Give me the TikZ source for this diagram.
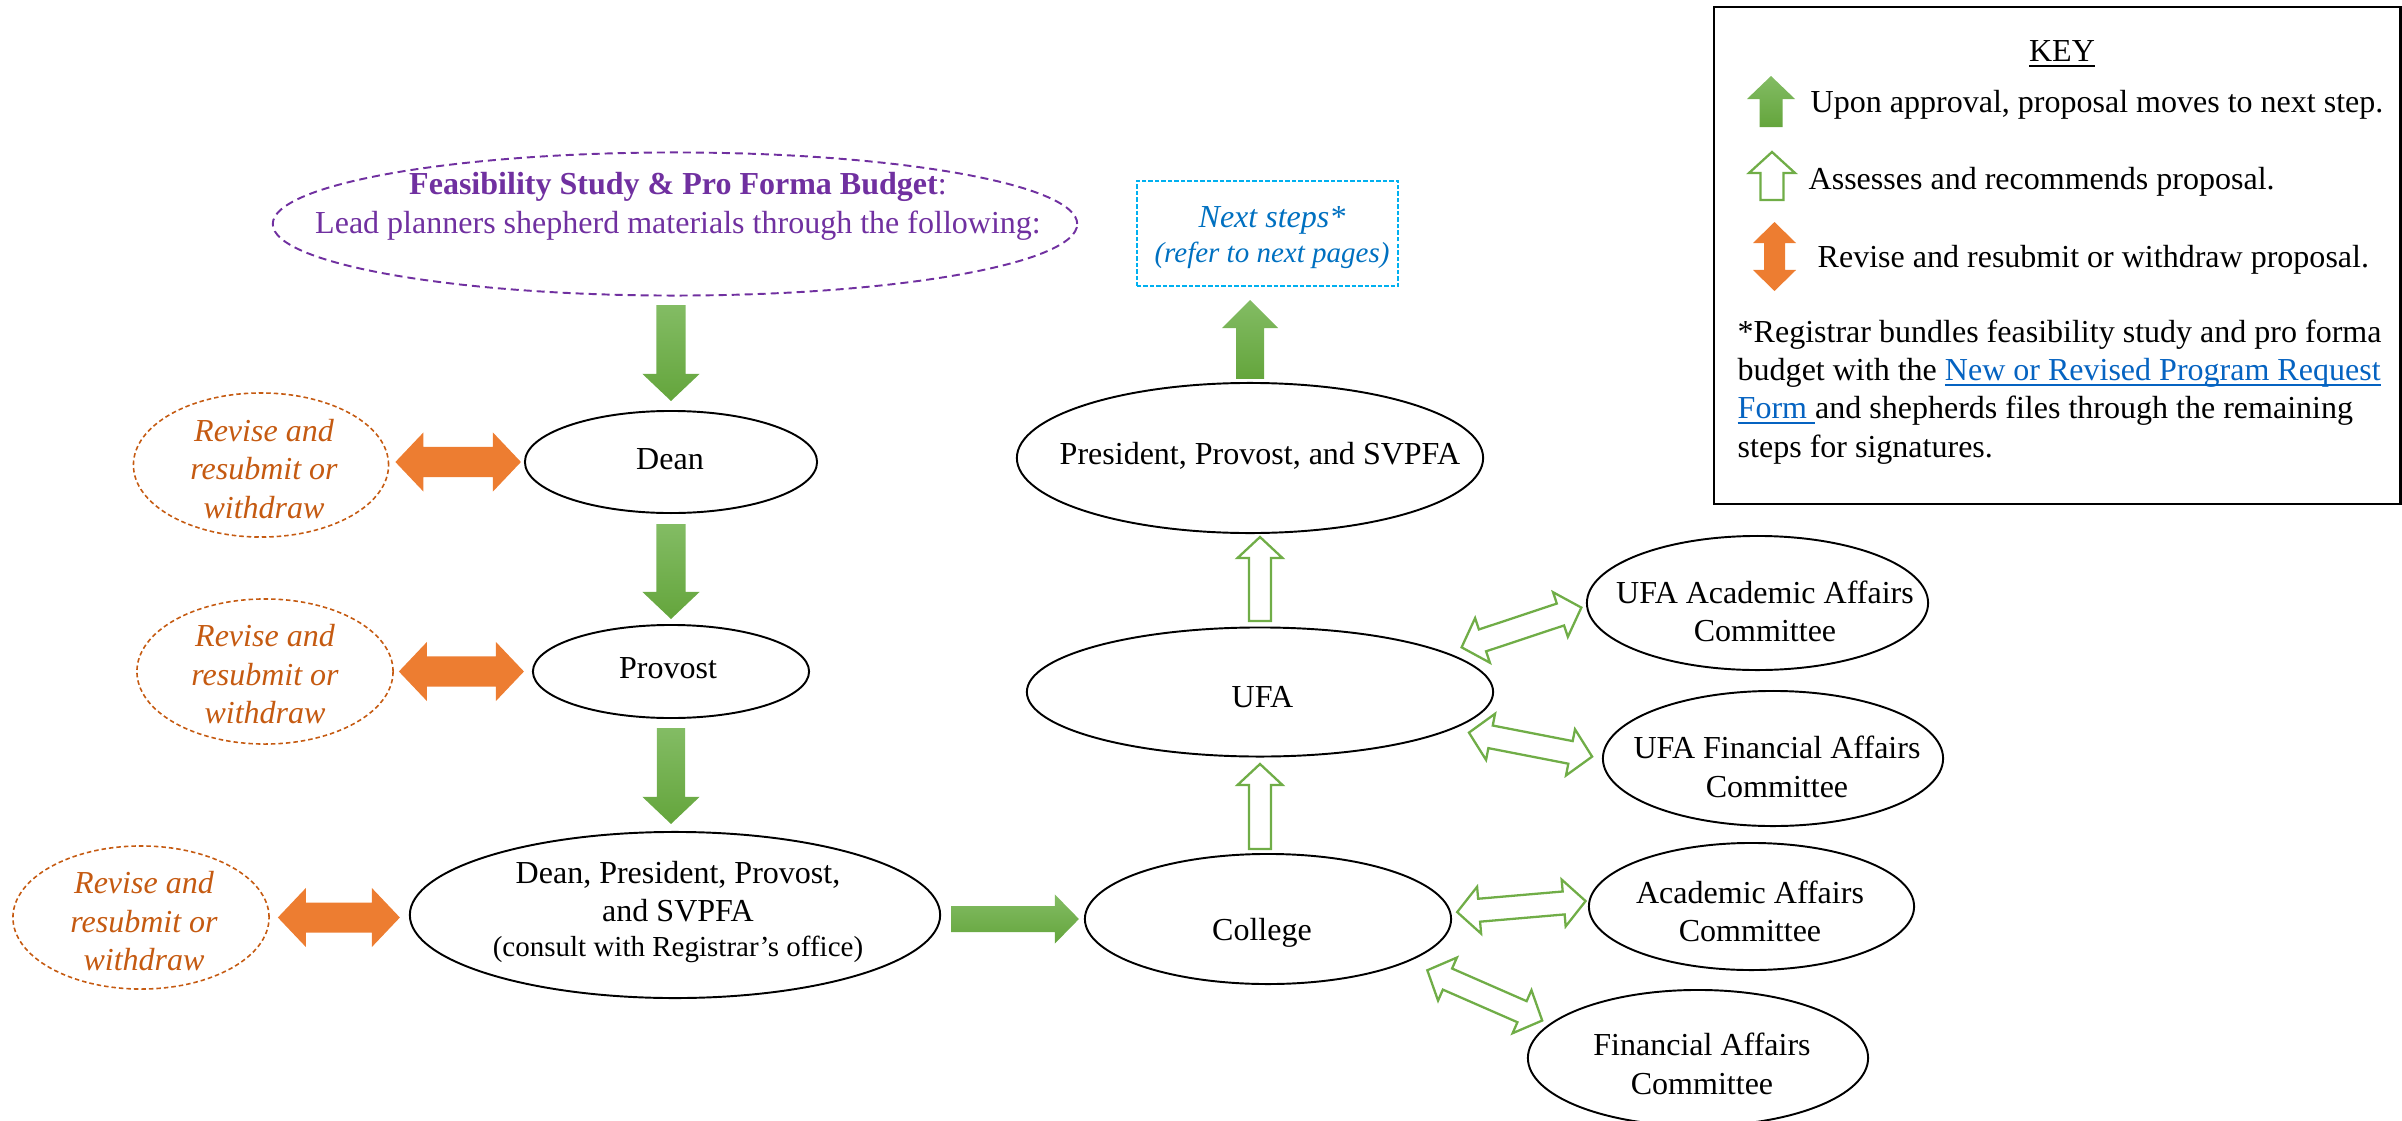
\documentclass[tikz,border=0pt]{standalone}
\usepackage{fontspec}
\setmainfont{Liberation Serif}
\usetikzlibrary{calc,shapes.geometric}
\definecolor{gtop}{RGB}{131,188,100}
\definecolor{gbot}{RGB}{100,165,60}
\definecolor{gline}{RGB}{112,173,71}
\definecolor{orng}{RGB}{237,125,49}
\definecolor{rtext}{RGB}{197,90,17}
\definecolor{purp}{RGB}{112,48,160}
\definecolor{nblue}{RGB}{0,112,192}
\definecolor{ncyan}{RGB}{0,176,240}
\definecolor{link}{RGB}{5,99,193}

\tikzset{
  ad/.code args={#1/#2/#3}{\def\asw{#1}\def\ahw{#2}\def\ahl{#3}},
  ell/.style={ellipse, draw=black, line width=0.55pt, inner sep=0pt},
  feasell/.style={ellipse, draw=purp, line width=0.55pt, dash pattern=on 0.08cm off 0.05cm, inner sep=0pt},
  revell/.style={ellipse, draw=rtext, line width=0.45pt, dash pattern=on 0.045cm off 0.03cm, inner sep=0pt},
  nextbox/.style={rectangle, draw=ncyan, line width=0.55pt, dash pattern=on 0.045cm off 0.02cm, inner sep=0pt},
  txt/.style={font=\fontsize{9.105}{10.95}\selectfont, inner sep=0pt, align=center},
  revtxt/.style={txt, text=rtext, font=\fontsize{9.105}{10.95}\selectfont\itshape},
  gfill/.style={top color=gtop, bottom color=gbot},
  ofill/.style={fill=orng},
  hol/.style={draw=gline, line width=0.65pt, fill=white, line join=miter},
}

% single-headed block arrow: [style]{from}{to}{gap at from}{gap at to}
\newcommand\blockarrow[5][]{%
  \path[#1] let \p1=($(#2)!#4!(#3)$), \p2=($(#3)!#5!(#2)$),
    \n1={atan2(\y2-\y1,\x2-\x1)}, \n2={veclen(\x2-\x1,\y2-\y1)} in
    ($(\p1)+({\n1+90}:\asw)$)
    -- ($(\p1)+(\n1:{\n2-\ahl})+({\n1+90}:\asw)$)
    -- ($(\p1)+(\n1:{\n2-\ahl})+({\n1+90}:\ahw)$)
    -- (\p2)
    -- ($(\p1)+(\n1:{\n2-\ahl})+({\n1-90}:\ahw)$)
    -- ($(\p1)+(\n1:{\n2-\ahl})+({\n1-90}:\asw)$)
    -- ($(\p1)+({\n1-90}:\asw)$) -- cycle;}

% double-headed block arrow
\newcommand\dblarrow[5][]{%
  \path[#1] let \p1=($(#2)!#4!(#3)$), \p2=($(#3)!#5!(#2)$),
    \n1={atan2(\y2-\y1,\x2-\x1)}, \n2={veclen(\x2-\x1,\y2-\y1)} in
    (\p1)
    -- ($(\p1)+(\n1:\ahl)+({\n1+90}:\ahw)$)
    -- ($(\p1)+(\n1:\ahl)+({\n1+90}:\asw)$)
    -- ($(\p1)+(\n1:{\n2-\ahl})+({\n1+90}:\asw)$)
    -- ($(\p1)+(\n1:{\n2-\ahl})+({\n1+90}:\ahw)$)
    -- (\p2)
    -- ($(\p1)+(\n1:{\n2-\ahl})+({\n1-90}:\ahw)$)
    -- ($(\p1)+(\n1:{\n2-\ahl})+({\n1-90}:\asw)$)
    -- ($(\p1)+(\n1:\ahl)+({\n1-90}:\asw)$)
    -- ($(\p1)+(\n1:\ahl)+({\n1-90}:\ahw)$) -- cycle;}

\begin{document}
\begin{tikzpicture}[x=0.01cm, y=-0.01cm]
\useasboundingbox (0,0) rectangle (2402,1121);

% ---------- left column ----------
\node[feasell, minimum width=8.04cm, minimum height=1.43cm] (feas) at (675,224) {};
\node[txt, text=purp] (feast) at (678,206.5) {\textbf{Feasibility Study \& Pro Forma Budget}:\\Lead planners shepherd materials through the following:};

\node[ell, minimum width=2.92cm, minimum height=1.02cm] (dean) at (671,462) {};
\node[txt] (deant) at (670,459.5) {Dean};

\node[ell, minimum width=2.76cm, minimum height=0.93cm] (prov) at (671,671.5) {};
\node[txt] (provt) at (668,668) {Provost};

\node[ell, minimum width=5.30cm, minimum height=1.66cm] (dpps) at (675,915) {};
\node[txt] (dppst) at (678,912) {Dean, President, Provost,\\and SVPFA\\[-0.035cm]{\fontsize{8.25}{9.9}\selectfont(consult with Registrar’s office)}};

\node[revell, minimum width=2.55cm, minimum height=1.44cm] (rev1) at (261,465) {};
\node[revtxt] (rev1t) at (264,469) {Revise and\\resubmit or\\withdraw};
\node[revell, minimum width=2.56cm, minimum height=1.45cm] (rev2) at (265,671.5) {};
\node[revtxt] (rev2t) at (265,674.5) {Revise and\\resubmit or\\withdraw};
\node[revell, minimum width=2.56cm, minimum height=1.43cm] (rev3) at (141,917.5) {};
\node[revtxt] (rev3t) at (144,921.5) {Revise and\\resubmit or\\withdraw};

% ---------- right column ----------
\node[nextbox, minimum width=2.61cm, minimum height=1.05cm] (next) at (1267.5,233.5) {};
\node[txt, text=nblue, font=\fontsize{9.105}{10.95}\selectfont\itshape] (nextt) at (1272,238) {Next steps*\\[-0.035cm]{\fontsize{8.25}{9.9}\selectfont(refer to next pages)}};

\node[ell, minimum width=4.66cm, minimum height=1.50cm] (pps) at (1250,458) {};
\node[txt] (ppst) at (1260,456) {President, Provost, and SVPFA};

\node[ell, minimum width=4.66cm, minimum height=1.29cm] (ufa) at (1260,692) {};
\node[txt] (ufat) at (1262.5,697.5) {UFA};

\node[ell, minimum width=3.66cm, minimum height=1.30cm] (college) at (1268,919) {};
\node[txt] (colleget) at (1262,932.5) {College};

\node[ell, minimum width=3.41cm, minimum height=1.34cm] (ufaaac) at (1757.5,603) {};
\node[txt] (ufaaact) at (1765,611.5) {UFA Academic Affairs\\Committee};
\node[ell, minimum width=3.40cm, minimum height=1.35cm] (ufafac) at (1773,758.5) {};
\node[txt] (ufafact) at (1777,767) {UFA Financial Affairs\\Committee};
\node[ell, minimum width=3.25cm, minimum height=1.27cm] (aac) at (1751.5,906.5) {};
\node[txt] (aact) at (1750,911.5) {Academic Affairs\\Committee};
\node[ell, minimum width=3.40cm, minimum height=1.36cm] (fac) at (1698,1058) {};
\node[txt] (fact) at (1702,1064) {Financial Affairs\\Committee};

% ---------- connectors ----------
\blockarrow[gfill, ad=0.145cm/0.285cm/0.27cm]{dean.north |- feas.south}{dean.north}{0.085cm}{0.09cm}
\blockarrow[gfill, ad=0.145cm/0.285cm/0.27cm]{dean.south}{prov.north}{0.10cm}{0.05cm}
\blockarrow[gfill, ad=0.14cm/0.285cm/0.27cm]{prov.south}{prov.south |- dpps.north}{0.09cm}{0.07cm}
\blockarrow[gfill, ad=0.13cm/0.245cm/0.24cm]{dpps.east |- college.west}{college.west}{0.10cm}{0.05cm}
\blockarrow[gfill, ad=0.14cm/0.28cm/0.28cm]{pps.north}{pps.north |- next.south}{0.03cm}{0.13cm}

\dblarrow[ofill, ad=0.15cm/0.295cm/0.28cm]{rev1.east |- dean.west}{dean.west}{0.06cm}{0.03cm}
\dblarrow[ofill, ad=0.15cm/0.295cm/0.28cm]{rev2.east}{prov.west}{0.05cm}{0.08cm}
\dblarrow[ofill, ad=0.15cm/0.295cm/0.28cm]{rev3.east}{dpps.west |- rev3.east}{0.08cm}{0.09cm}

\blockarrow[hol, ad=0.11cm/0.225cm/0.21cm]{ufa.north}{ufa.north |- pps.south}{0.055cm}{0.03cm}
\blockarrow[hol, ad=0.11cm/0.225cm/0.21cm]{ufa.south |- college.north}{ufa.south}{0.04cm}{0.065cm}
\dblarrow[hol, ad=0.115cm/0.235cm/0.22cm]{ufa.12}{ufaaac.181}{0.16cm}{0.05cm}
\dblarrow[hol, ad=0.115cm/0.235cm/0.22cm]{ufa.-11}{ufafac.west}{0.17cm}{0.10cm}
\dblarrow[hol, ad=0.115cm/0.235cm/0.22cm]{college.2}{aac.178}{0.06cm}{0.03cm}
\dblarrow[hol, ad=0.115cm/0.235cm/0.22cm]{college.-17}{fac.167}{0.21cm}{0.08cm}

% ---------- key ----------
\node[rectangle, draw=black, line width=0.6pt, inner sep=0pt, anchor=north west, minimum width=6.86cm, minimum height=4.97cm] (keybox) at (1713,6) {};
\node[txt, anchor=base] (keyt) at (2062,61) {\underline{KEY}};
\coordinate (k1a) at (1771,127); \coordinate (k1b) at (1771,76);
\blockarrow[gfill, ad=0.115cm/0.24cm/0.23cm]{k1a}{k1b}{0cm}{0cm}
\node[txt, anchor=base west] (key1) at (1810,112) {Upon approval, proposal moves to next step.};
\coordinate (k2a) at (1772,200); \coordinate (k2b) at (1772,152);
\blockarrow[hol, ad=0.115cm/0.23cm/0.21cm]{k2a}{k2b}{0cm}{0cm}
\node[txt, anchor=base west] (key2) at (1808,189) {Assesses and recommends proposal.};
\coordinate (k3a) at (1774.5,222); \coordinate (k3b) at (1774.5,291);
\dblarrow[ofill, ad=0.105cm/0.215cm/0.21cm]{k3a}{k3b}{0cm}{0cm}
\node[txt, anchor=base west] (key3) at (1817,267) {Revise and resubmit or withdraw proposal.};
\node[txt, anchor=base west] (kp1) at (1737,342) {*Registrar bundles feasibility study and pro forma};
\node[txt, anchor=base west] (kp2) at (1737,380) {budget with the \textcolor{link}{\underline{\smash{New or Revised Program Request}}}};
\node[txt, anchor=base west] (kp3) at (1737,418) {\textcolor{link}{\underline{\smash{Form\ }}}and shepherds files through the remaining};
\node[txt, anchor=base west] (kp4) at (1737,457) {steps for signatures.};
\end{tikzpicture}
\end{document}
